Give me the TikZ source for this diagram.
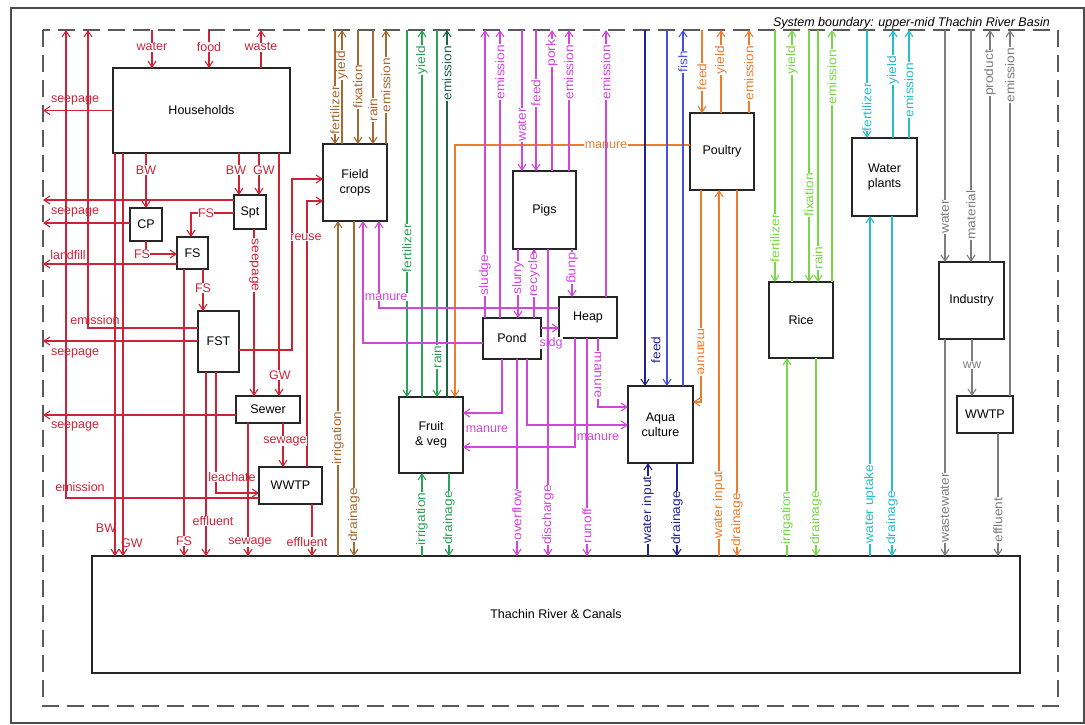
\documentclass[tikz,border=0pt]{standalone}
\usepackage{fontspec}
\setmainfont{Liberation Sans}
\usepackage{graphicx}
\usetikzlibrary{arrows.meta}
\definecolor{hhcol}{RGB}{205,35,55}
\definecolor{fccol}{RGB}{165,105,50}
\definecolor{fvcol}{RGB}{45,160,90}
\definecolor{fvdcol}{RGB}{30,100,70}
\definecolor{pgcol}{RGB}{210,70,220}
\definecolor{ptcol}{RGB}{235,125,45}
\definecolor{aqcol}{RGB}{35,35,140}
\definecolor{aqbcol}{RGB}{70,80,220}
\definecolor{rccol}{RGB}{120,215,70}
\definecolor{wpcol}{RGB}{40,190,200}
\definecolor{incol}{RGB}{125,125,125}
\newcommand\lbl{\fontsize{12.5}{15}\selectfont}
\newcommand\vs[1]{\scalebox{1.1}[1]{#1}}
\newcommand\bx[6]{\node[box, minimum width={(#4-#2)*1pt}, minimum height={(#5-#3)*1pt}] (#1) at ({(#2+#4)/2},{(#3+#5)/2}) {#6};}
\newcommand\flowU[5]{\draw[#1,arr] (#2.north -| #3,0) -- (#3,0 |- tb); \node[#1,vl] at (#3,#5) {\vs{#4}};}
\newcommand\flowD[5]{\draw[#1,arr] (#3,0 |- tb) -- (#2.north -| #3,0); \node[#1,vl] at (#3,#5) {\vs{#4}};}
\newcommand\rivU[5]{\draw[#1,arr] (river.north -| #3,0) -- (#2.south -| #3,0); \node[#1,vl] at (#3,#5) {\vs{#4}};}
\newcommand\rivD[5]{\draw[#1,arr] (#2.south -| #3,0) -- (river.north -| #3,0); \node[#1,vl] at (#3,#5) {\vs{#4}};}
\tikzset{
 arr/.style={-{Straight Barb[length=6pt,width=8pt]}},
 box/.style={draw=black!85, line width=1.3pt, fill=white, align=center, font=\lbl, inner sep=1pt, outer sep=0pt},
 lab/.style={draw=none, fill=white, inner sep=0.4pt, font=\lbl},
 labn/.style={draw=none, fill=none, inner sep=0.4pt, font=\lbl},
 vl/.style={lab, rotate=90},
 vr/.style={lab, rotate=-90},
 flow/.style={line width=1.1pt},
 chh/.style={flow, color=hhcol},
 cfc/.style={flow, color=fccol},
 cfv/.style={flow, color=fvcol},
 cfvd/.style={flow, color=fvdcol},
 cpg/.style={flow, color=pgcol},
 cpt/.style={flow, color=ptcol},
 caq/.style={flow, color=aqcol},
 caqb/.style={flow, color=aqbcol},
 crc/.style={flow, color=rccol},
 cwp/.style={flow, color=wpcol},
 cin/.style={flow, color=incol}
}
\begin{document}
\begin{tikzpicture}[x=1pt,y=-1pt]
\useasboundingbox (0,0) rectangle (1085,724);
\fill[white] (0,0) rectangle (1085,724);
\draw[line width=1.5pt, black!70] (11,8) rectangle (1084,723);
\draw[line width=1.6pt, black!65, dash pattern=on 17pt off 8pt] (43,30) rectangle (1058,706);
\coordinate (tb) at (0,30);
\coordinate (lft) at (43,0);
\node[font=\itshape\lbl, anchor=base east, inner sep=0] at (1050,26) {System boundary: upper-mid Thachin River Basin};

% boxes
\bx{hh}{113}{68}{290}{153}{Households}
\bx{cp}{130}{208}{162}{241}{CP}
\bx{fs}{177}{237}{208}{269}{FS}
\bx{spt}{234}{195}{266}{229}{Spt}
\bx{fst}{198}{311}{239}{372}{FST}
\bx{sewer}{236}{396}{300}{423}{Sewer}
\bx{wwtp}{259}{467}{322}{504}{WWTP}
\bx{fc}{323}{144}{387}{221}{Field\\crops}
\bx{fv}{399}{397}{463}{473}{Fruit\\\& veg}
\bx{pigs}{513}{171}{576}{249}{Pigs}
\bx{pond}{483}{318}{541}{359}{Pond}
\bx{heap}{559}{297}{617}{338}{Heap}
\bx{aqua}{628}{386}{693}{463}{Aqua\\culture}
\bx{poultry}{690}{113}{754}{190}{Poultry}
\bx{rice}{769}{282}{833}{358}{Rice}
\bx{wp}{852}{138}{917}{216}{Water\\plants}
\bx{ind}{939}{262}{1004}{339}{Industry}
\bx{wwtpb}{957}{396}{1013}{433}{WWTP}
\bx{river}{92}{556}{1020}{673}{Thachin River \& Canals}

% ---------------- households (red)
\draw[chh,arr] (152,0 |- tb) -- (hh.north -| 152,0); \node[chh,lab] at (152,47) {water};
\draw[chh,arr] (209,0 |- tb) -- (hh.north -| 209,0); \node[chh,lab] at (209,47) {food};
\draw[chh,arr] (hh.north -| 261,0) -- (261,0 |- tb); \node[chh,lab] at (261,47) {waste};
\draw[chh,arr] (hh.west) -- (hh.west -| lft); \node[chh,labn] at (75,100) {seepage};
\draw[chh,arr] (hh.south -| 115,0) -- (river.north -| 115,0); \node[chh,labn] at (106,528) {BW};
\draw[chh,arr] (hh.south -| 123,0) -- (river.north -| 123,0); \node[chh,labn] at (132,543) {GW};
\draw[chh,arr] (spt.west |- 0,200) -- (lft |- 0,200);
\draw[chh,arr] (cp.west |- 0,223) -- (lft |- 0,223);
\node[chh,labn] at (75,212) {seepage};
\draw[chh,arr] (fs.west |- 0,264) -- (lft |- 0,264); \node[chh,labn] at (68,255) {landfill};
\draw[chh,arr] (fst.west |- 0,328) -| (88,0 |- tb); \node[chh,labn] at (95,320) {emission};
\draw[chh,arr] (fst.west |- 0,341) -- (lft |- 0,341); \node[chh,labn] at (75,353) {seepage};
\draw[chh,arr] (sewer.west |- 0,415) -- (lft |- 0,415); \node[chh,labn] at (75,426) {seepage};
\draw[chh,arr] (wwtp.west |- 0,498) -| (66,0 |- tb); \node[chh,labn] at (80,487) {emission};
\draw[chh,arr] (hh.south -| 146,0) -- (cp.north -| 146,0); \node[chh,lab] at (146,170) {BW};
\draw[chh,arr] (hh.south -| 239,0) -- (spt.north -| 239,0); \node[chh,lab] at (236,170) {BW};
\draw[chh,arr] (hh.south -| 259,0) -- (spt.north -| 259,0); \node[chh,lab] at (264,170) {GW};
\draw[chh,arr] (hh.south -| 279,0) -- (sewer.north -| 279,0); \node[chh,lab] at (280,375) {GW};
\draw[chh,arr] (cp.south -| 146,0) |- (fs.west |- 0,254); \node[chh,lab] at (142,254) {FS};
\draw[chh,arr] (spt.west |- 0,213) -| (fs.north -| 191,0); \node[chh,lab] at (206,213) {FS};
\draw[chh,arr] (fs.south -| 203,0) -- (fst.north -| 203,0); \node[chh,lab] at (203,288) {FS};
\draw[chh,arr] (spt.south -| 254,0) -- (sewer.north -| 254,0); \node[chh,vr] at (254,265) {\vs{seepage}};
\draw[chh,arr] (fst.east |- 0,350) -| (292,179) -- (fc.west |- 0,179);
\draw[chh,arr] (wwtp.north -| 307,0) |- (fc.west |- 0,201);
\node[chh,lab] at (306,237) {reuse};
\draw[chh,arr] (fs.south -| 184,0) -- (river.north -| 184,0); \node[chh,lab] at (184,541) {FS};
\draw[chh,arr] (fst.south -| 216,0) |- (wwtp.west |- 0,493); \node[chh,lab] at (232,477) {leachate};
\draw[chh,arr] (fst.south -| 206,0) -- (river.north -| 206,0); \node[chh,lab] at (213,521) {effluent};
\draw[chh,arr] (sewer.south -| 248,0) -- (river.north -| 248,0); \node[chh,lab] at (250,542) {sewage};
\draw[chh,arr] (sewer.south -| 283,0) -- (wwtp.north -| 283,0); \node[chh,lab] at (285,441) {sewage};
\draw[chh,arr] (wwtp.south -| 312,0) -- (river.north -| 312,0); \node[chh,lab] at (307,542) {effluent};

% ---------------- field crops (brown)
\flowD{cfc}{fc}{335}{fertilizer}{110}
\flowU{cfc}{fc}{342}{yield}{65}
\flowD{cfc}{fc}{358}{fixation}{87}
\flowD{cfc}{fc}{373}{rain}{110}
\flowU{cfc}{fc}{386}{emission}{85}
\rivU{cfc}{fc}{338}{irrigation}{438}
\rivD{cfc}{fc}{354}{drainage}{515}

% ---------------- fruit & veg (green)
\flowD{cfv}{fv}{407}{fertilizer}{248}
\flowU{cfv}{fv}{422}{yield}{60}
\flowD{cfv}{fv}{437}{rain}{357}
\flowU{cfvd}{fv}{447}{emission}{73}
\rivU{cfv}{fv}{422}{irrigation}{519}
\rivD{cfv}{fv}{449}{drainage}{518}

% ---------------- poultry manure to fruit & veg
\draw[cpt,arr] (poultry.west |- 0,145) -| (fv.north -| 455,0); \node[cpt,lab] at (606,145) {manure};

% ---------------- pigs, pond, heap (magenta)
\flowU{cpg}{pond}{485}{sludge}{275}
\flowU{cpg}{pond}{500}{emission}{72}
\flowD{cpg}{pigs}{522}{water}{125}
\flowD{cpg}{pigs}{536}{feed}{93}
\flowU{cpg}{pigs}{552}{pork}{53}
\flowU{cpg}{pigs}{569}{emission}{72}
\flowU{cpg}{heap}{606}{emission}{72}
\draw[cpg,arr] (pigs.south -| 518,0) -- (pond.north -| 518,0); \node[cpg,vl] at (518,278) {\vs{slurry}};
\draw[cpg,arr] (pond.north -| 534,0) -- (pigs.south -| 534,0); \node[cpg,vl] at (534,275) {\vs{recycle}};
\draw[cpg,arr] (pigs.south -| 572,0) -- (heap.north -| 572,0); \node[cpg,vr] at (572,268) {\vs{dung}};
\draw[cpg,arr] (pond.east |- 0,328) -- (heap.west |- 0,328); \node[cpg,lab] at (551,343) {sldg};
\draw[cpg,arr] (heap.west |- 0,308) -| (fc.south -| 379,0); \node[cpg,lab,anchor=west] at (364,297) {manure};
\draw[cpg,arr] (pond.west |- 0,343) -| (fc.south -| 363,0);
\draw[cpg,arr] (pond.south -| 502,0) |- (fv.east |- 0,413);
\draw[cpg,arr] (heap.south -| 575,0) |- (fv.east |- 0,447);
\node[cpg,lab] at (487,429) {manure};
\draw[cpg,arr] (pond.south -| 527,0) |- (aqua.west |- 0,425);
\draw[cpg,arr] (heap.south -| 598,0) |- (aqua.west |- 0,407);
\node[cpg,lab] at (598,437) {manure};
\node[cpg,vr] at (598,375) {\vs{manure}};
\rivD{cpg}{pigs}{548}{discharge}{515}
\rivD{cpg}{pond}{517}{overflow}{515}
\rivD{cpg}{heap}{587}{runoff}{526}

% ---------------- aquaculture (blue)
\draw[caq,arr] (645,0 |- tb) -- (aqua.north -| 645,0);
\draw[caqb,arr] (667,0 |- tb) -- (aqua.north -| 667,0);
\node[caq,vl] at (656,350) {\vs{feed}};
\flowU{caqb}{aqua}{683}{fish}{62}
\rivU{caq}{aqua}{648}{water input}{510}
\rivD{caq}{aqua}{677}{drainage}{518}

% ---------------- poultry (orange)
\flowD{cpt}{poultry}{702}{feed}{77}
\flowU{cpt}{poultry}{721}{yield}{60}
\flowU{cpt}{poultry}{749}{emission}{73}
\draw[cpt,arr] (poultry.south -| 701,0) |- (aqua.east |- 0,402); \node[cpt,vr] at (701,352) {\vs{manure}};
\rivU{cpt}{poultry}{719}{water input}{505}
\rivD{cpt}{poultry}{737}{drainage}{520}

% ---------------- rice (light green)
\flowD{crc}{rice}{775}{fertilizer}{238}
\flowU{crc}{rice}{792}{yield}{60}
\flowD{crc}{rice}{809}{fixation}{195}
\flowD{crc}{rice}{818}{rain}{258}
\flowU{crc}{rice}{832}{emission}{77}
\rivU{crc}{rice}{787}{irrigation}{518}
\rivD{crc}{rice}{816}{drainage}{518}

% ---------------- water plants (cyan)
\flowD{cwp}{wp}{867}{fertilizer}{107}
\flowU{cwp}{wp}{893}{yield}{70}
\flowU{cwp}{wp}{909}{emission}{90}
\rivU{cwp}{wp}{870}{water uptake}{504}
\rivD{cwp}{wp}{892}{drainage}{518}

% ---------------- industry (gray)
\flowD{cin}{ind}{945}{water}{217}
\flowD{cin}{ind}{971}{material}{215}
\flowU{cin}{ind}{990}{product}{73}
\flowU{cin}{wwtpb}{1010}{emission}{75}
\draw[cin,arr] (ind.south -| 972,0) -- (wwtpb.north -| 972,0); \node[cin,lab] at (972,365) {ww};
\rivD{cin}{ind}{945}{wastewater}{508}
\rivD{cin}{wwtpb}{998}{effluent}{520}
\end{tikzpicture}
\end{document}
